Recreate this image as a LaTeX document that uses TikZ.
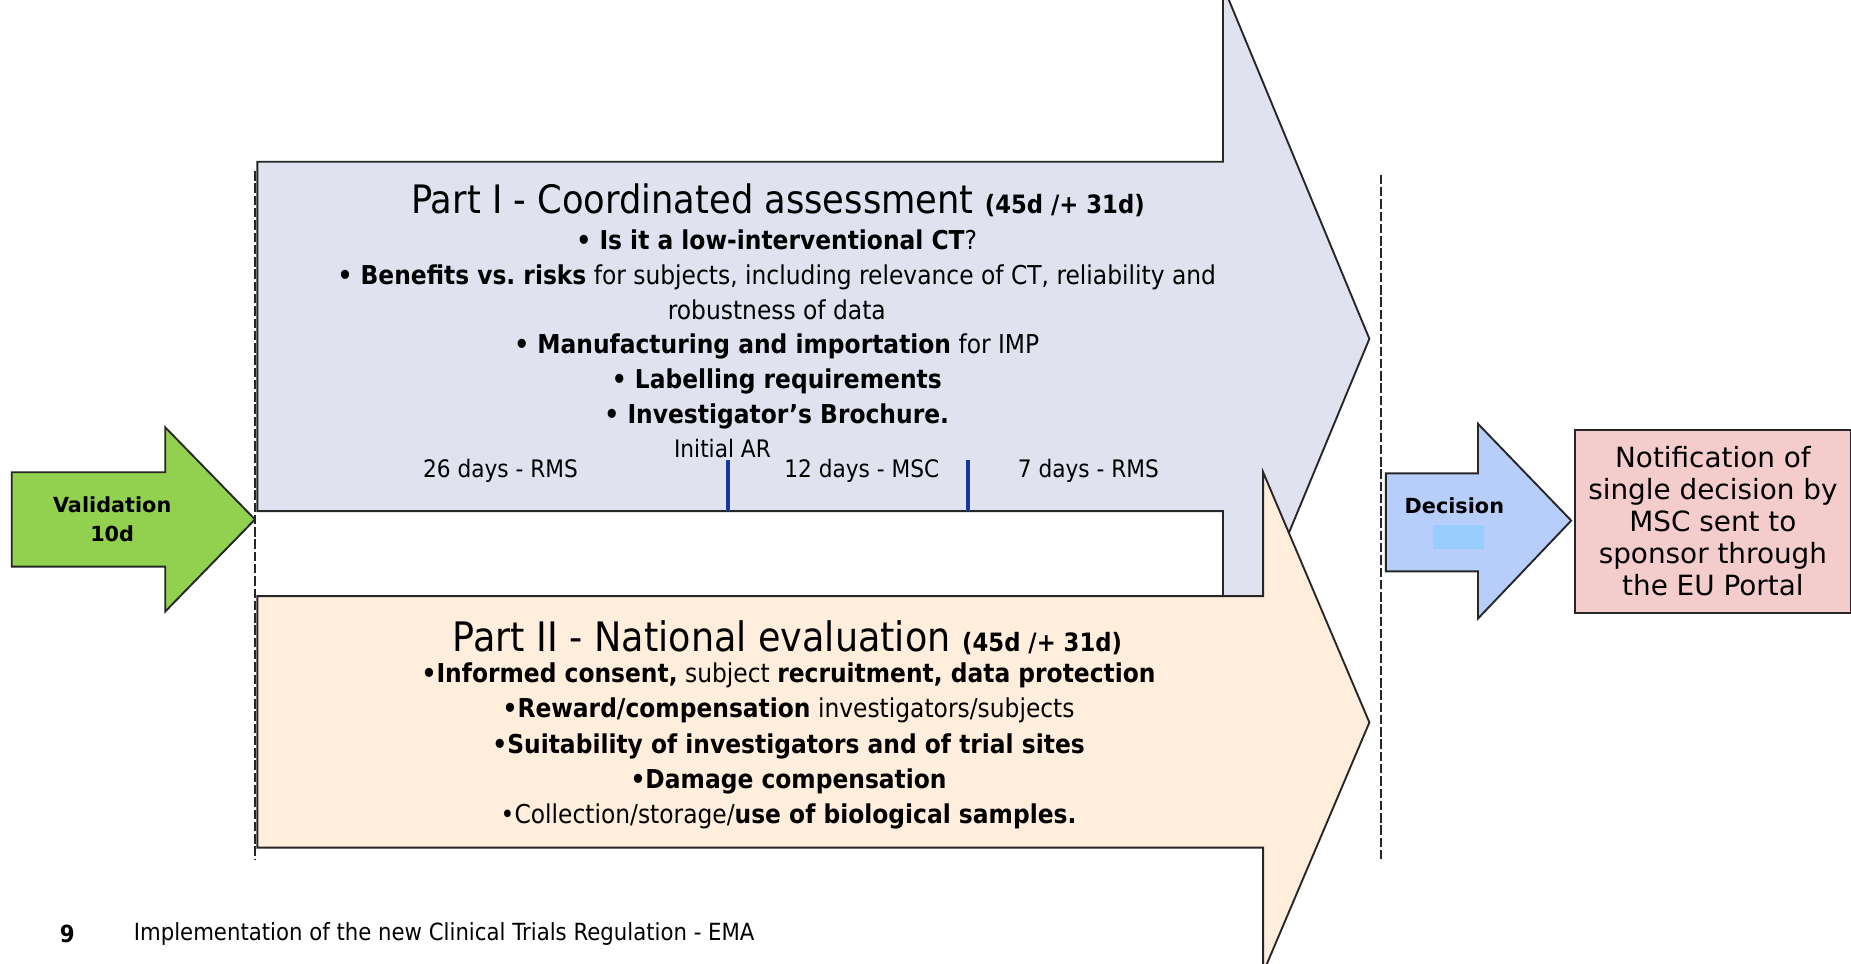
\documentclass[tikz,border=0pt]{standalone}
\usepackage{fontspec}
\setmainfont{DejaVu Sans}[FakeStretch=0.9]
\newfontfamily\verd{DejaVu Sans}
\usetikzlibrary{positioning, calc}

\definecolor{partone}{RGB}{224,226,240}
\definecolor{parttwo}{RGB}{255,238,220}
\definecolor{valgreen}{RGB}{146,208,80}
\definecolor{decblue}{RGB}{183,205,250}
\definecolor{decpatch}{RGB}{153,204,255}
\definecolor{notepink}{RGB}{244,204,204}
\definecolor{tickblue}{RGB}{25,55,160}

\begin{document}
\begin{tikzpicture}[
		x=0.5pt, y=-0.5pt,
		blockarrow/.style={draw=black!85, line width=0.8pt, line join=miter},
		phase/.style={dash pattern=on 4pt off 1.2pt, line width=0.8pt, black!85},
		daytick/.style={tickblue, line width=1.7pt}
	]
	\tikzstyle{Label} = [ %plain text, no frame
		inner sep=0pt,
		text centered
	]
	\tikzstyle{ListText} = [
		Label,
		align=center
	]
	\tikzstyle{DayText} = [
		Label,
		font=\fontsize{10.2}{12}\selectfont
	]
	\useasboundingbox (0,0) rectangle (1568,816);

	% the two assessment arrows, part II lies on top of part I
	\draw[blockarrow, fill=partone] (218,137) -- (1036,137) -- (1036,-12) -- (1160,287)
		-- (1036,586) -- (1036,433) -- (218,433) -- cycle;
	\draw[blockarrow, fill=parttwo] (218,505) -- (1070,505) -- (1070,400) -- (1160,612)
		-- (1070,824) -- (1070,718) -- (218,718) -- cycle;
	\draw[blockarrow, fill=valgreen] (10,400) -- (140,400) -- (140,362) -- (216,440)
		-- (140,518) -- (140,480) -- (10,480) -- cycle;
	\draw[blockarrow, fill=decblue] (1174,401) -- (1252,401) -- (1252,359) -- (1331,441)
		-- (1252,524) -- (1252,484) -- (1174,484) -- cycle;
	\fill[decpatch] (1214,445) rectangle (1257,465);

	\coordinate (startTop) at (216,145);
	\coordinate (startBot) at (216,728);
	\coordinate (endTop) at (1170,148);
	\coordinate (endBot) at (1170,728);
	\draw[phase] (startTop) -- (startBot);
	\draw[phase] (endTop) -- (endBot);

	\coordinate (arTop) at (617,390);
	\coordinate (arBot) at (617,433);
	\coordinate (mscTop) at (820,390);
	\coordinate (mscBot) at (820,433);
	\draw[daytick] (arTop) -- (arBot);
	\draw[daytick] (mscTop) -- (mscBot);

	\node (val) [ListText, font=\verd\bfseries\fontsize{8.8}{12.5}\selectfont] at (95,440) {Validation\\10d};

	\node (p1title) [Label] at (659,170) {\fontsize{16.6}{18}\selectfont Part I - Coordinated assessment
		\fontsize{10.7}{12}\selectfont\bfseries (45d /+ 31d)};
	\node (p1list) [ListText, font=\fontsize{11}{14.7}\selectfont] at (658,279) {%
		{\bfseries • Is it a low-interventional CT}?\\
		{\bfseries • Benefits vs.\ risks} for subjects, including relevance of CT, reliability and\\
		robustness of data\\
		{\bfseries • Manufacturing and importation} for IMP\\
		{\bfseries • Labelling requirements}\\
		{\bfseries • Investigator’s Brochure.}};
	\node (initAR) [DayText] at (612,380) {Initial AR};
	\node (rms1) [DayText] at (424,399) {26 days - RMS};
	\node (msc) [DayText] at (730,399) {12 days - MSC};
	\node (rms2) [DayText] at (922,399) {7 days - RMS};

	\node (p2title) [Label] at (667,540) {\fontsize{17.2}{18}\selectfont Part II - National evaluation
		\fontsize{10.7}{12}\selectfont\bfseries (45d /+ 31d)};
	\node (p2list) [ListText, font=\fontsize{11}{14.9}\selectfont] at (668,632) {%
		{\bfseries •Informed consent,} subject {\bfseries recruitment, data protection}\\
		{\bfseries •Reward/compensation} investigators/subjects\\
		{\bfseries •Suitability of investigators and of trial sites}\\
		{\bfseries •Damage compensation}\\
		•Collection/storage/{\bfseries use of biological samples.}};

	\node (dec) [Label, font=\verd\bfseries\fontsize{8.8}{11}\selectfont] at (1232,428) {Decision};

	\node (notify) [draw=black!85, line width=0.8pt, fill=notepink, minimum width=117pt,
		minimum height=77.5pt, align=center, inner sep=0pt,
		font=\verd\fontsize{11.8}{13.5}\selectfont] at (1451,441.5)
		{Notification of\\single decision by\\MSC sent to\\sponsor through\\the EU Portal};

	\node (pageno) [Label, font=\bfseries\fontsize{10}{11}\selectfont] at (57,791) {9};
	\node (footer) [Label, anchor=west, font=\fontsize{10}{11}\selectfont] at (113,791)
		{Implementation of the new Clinical Trials Regulation - EMA};
\end{tikzpicture}
\end{document}
